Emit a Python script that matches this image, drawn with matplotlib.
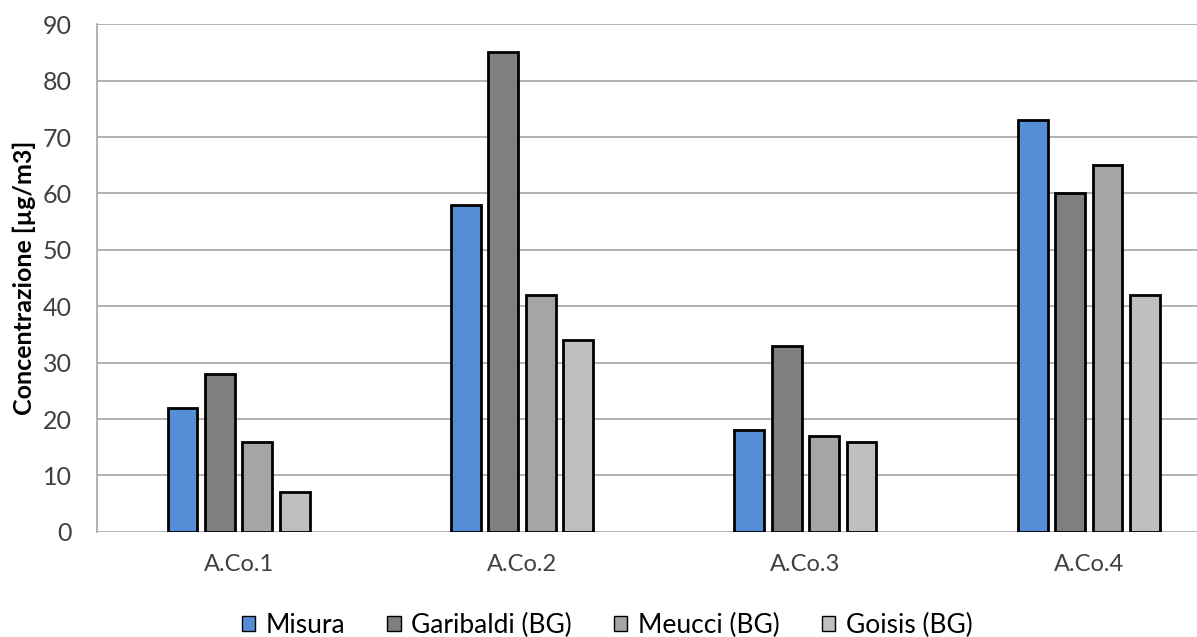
import numpy as np
import matplotlib.pyplot as plt

categories = ["A.Co.1", "A.Co.2", "A.Co.3", "A.Co.4"]
series = ["Misura", "Garibaldi (BG)", "Meucci (BG)", "Goisis (BG)"]
misura = [22, 58, 18, 73]
garibaldi = [28, 85, 33, 60]
meucci = [16, 42, 17, 65]
goisis = [7, 34, 16, 42]
colors = ["#558ED5", "#7F7F7F", "#A5A5A5", "#BFBFBF"]

plt.rcParams['font.family'] = ['Lato', 'DejaVu Sans']

fig = plt.figure(figsize=(11.97, 6.37), dpi=100)
# axes runs a bit past the right edge of the figure
ax = fig.add_axes([0.081, 0.165, 0.947, 0.797])

x = np.arange(len(categories))
slot = 0.132
width = 0.105
for i, (name, vals) in enumerate(zip(series, [misura, garibaldi, meucci, goisis])):
    ax.bar(x + (i - 1.5) * slot, vals, width, color=colors[i],
           edgecolor="black", linewidth=2, label=name, zorder=3)

ax.set_xlim(-0.5, 3.5)
ax.set_ylim(0, 90)
ax.set_yticks(range(0, 91, 10))
ax.set_xticks(x)
ax.set_xticklabels(categories, fontsize=17, color="#404040")
ax.tick_params(axis="y", labelsize=18, length=0, pad=18, colors="#404040")
ax.tick_params(axis="x", length=0, pad=16)
ax.yaxis.grid(True, color="#A6A6A6", linewidth=1.2, zorder=0)
for s in ["top", "right", "bottom"]:
    ax.spines[s].set_visible(False)
ax.spines["left"].set_color("#A6A6A6")
ax.spines["left"].set_linewidth(1.2)
ax.set_ylabel("Concentrazione [µg/m3]", fontsize=18, fontweight="bold", labelpad=5)

leg = ax.legend(loc="lower center", bbox_to_anchor=(0.45, -0.255), ncol=4, frameon=False,
                fontsize=19, handlelength=0.5, handleheight=0.5, handletextpad=0.4,
                columnspacing=1.6)
for h in leg.legend_handles:
    h.set_linewidth(1)

fig.savefig("out.png", dpi=100)
